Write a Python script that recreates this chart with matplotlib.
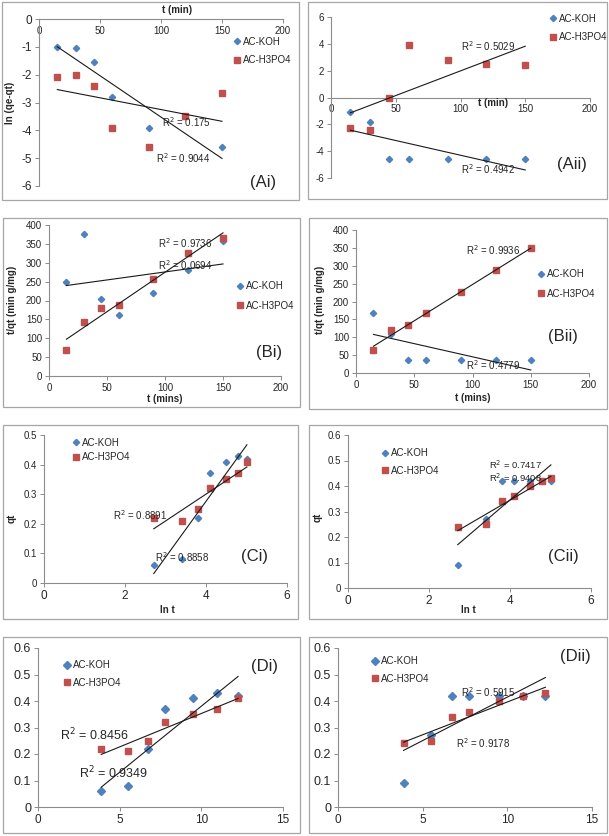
import numpy as np
import matplotlib
matplotlib.use("Agg")
import matplotlib.pyplot as plt
from matplotlib.patches import Rectangle

plt.rcParams['font.family'] = ['Liberation Sans', 'DejaVu Sans']
plt.rcParams['axes.unicode_minus'] = False

# ---------------- data ----------------
t_min = [15, 30, 45, 60, 90, 120, 150]
t_min_koh_ai = [15, 30, 45, 60, 90, 150]
ln_t = [2.71, 3.40, 3.81, 4.09, 4.50, 4.79, 5.01]
sqrt_t = [3.87, 5.48, 6.71, 7.75, 9.49, 10.95, 12.25]

ai_koh = [-1.0, -1.05, -1.55, -2.8, -3.9, -4.6]
ai_h3po4 = [-2.1, -2.02, -2.4, -3.9, -4.6, -3.5, -2.65]
aii_koh = [-1.1, -1.85, -4.6, -4.6, -4.6, -4.6, -4.6]
aii_h3po4 = [-2.3, -2.4, 0.0, 3.9, 2.8, 2.5, 2.4]
bi_koh = [250, 375, 205, 162, 220, 280, 357]
bi_h3po4 = [68, 143, 180, 188, 257, 325, 366]
bii_koh = [167, 110, 36, 36, 36, 36, 36]
bii_h3po4 = [63, 121, 133, 168, 226, 287, 349]
qt_i_koh = [0.06, 0.08, 0.22, 0.37, 0.41, 0.43, 0.42]
qt_i_h3po4 = [0.22, 0.21, 0.25, 0.32, 0.35, 0.37, 0.41]
qt_ii_koh = [0.09, 0.27, 0.42, 0.42, 0.42, 0.42, 0.42]
qt_ii_h3po4 = [0.24, 0.25, 0.34, 0.36, 0.40, 0.42, 0.43]

series_names = ["AC-KOH", "AC-H3PO4"]
r2_labels = {
    "Ai": ["R$^2$ = 0.175", "R$^2$ = 0.9044"],
    "Aii": ["R$^2$ = 0.5029", "R$^2$ = 0.4942"],
    "Bi": ["R$^2$ = 0.9736", "R$^2$ = 0.0694"],
    "Bii": ["R$^2$ = 0.9936", "R$^2$ = 0.4779"],
    "Ci": ["R$^2$ = 0.8891", "R$^2$ = 0.8858"],
    "Cii": ["R$^2$ = 0.7417", "R$^2$ = 0.9408"],
    "Di": ["R$^2$ = 0.8456", "R$^2$ = 0.9349"],
    "Dii": ["R$^2$ = 0.5915", "R$^2$ = 0.9178"],
}

# ---------------- layout helpers ----------------
W, H = 609, 836
fig = plt.figure(figsize=(W / 100, H / 100), dpi=100)

BLUE = "#4F81BD"
RED = "#C0504D"
SPINE = "#8C8C8C"
TXT = "#262626"


def rect(x0, y0, x1, y1):
    return [x0 / W, 1 - y1 / H, (x1 - x0) / W, (y1 - y0) / H]


def ftext(x, y, s, **kw):
    kw.setdefault("color", TXT)
    kw.setdefault("ha", "center")
    kw.setdefault("va", "center")
    fig.text(x / W, 1 - y / H, s, **kw)


def box(x0, y0, x1, y1):
    fig.patches.append(Rectangle((x0 / W, 1 - y1 / H), (x1 - x0) / W, (y1 - y0) / H,
                                 transform=fig.transFigure, fill=False,
                                 edgecolor="#A6A6A6", lw=0.9))


def make_ax(r, xlim, ylim, xticks, yticks, xfs=7, yfs=7, zero_axis=False, yfmt=None):
    ax = fig.add_axes(rect(*r))
    ax.set_xlim(*xlim)
    ax.set_ylim(*ylim)
    ax.set_xticks(xticks)
    ax.set_yticks(yticks)
    if yfmt:
        ax.set_yticklabels([yfmt(v) for v in yticks])
    for s in ["top", "right"]:
        ax.spines[s].set_visible(False)
    for s in ["left", "bottom"]:
        ax.spines[s].set_color(SPINE)
        ax.spines[s].set_linewidth(0.8)
    if zero_axis:
        ax.spines["bottom"].set_position(("data", 0))
    ax.tick_params(axis="both", direction="out", length=3, width=0.7, color=SPINE,
                   colors=TXT)
    ax.tick_params(axis="x", labelsize=xfs, pad=2)
    ax.tick_params(axis="y", labelsize=yfs, pad=2)
    ax.patch.set_alpha(0)
    return ax


def plot_series(ax, xk, yk, xh, yh, ms_d=3.2, ms_s=4.0):
    ax.plot(xk, yk, "D", color=BLUE, ms=ms_d, mec=BLUE, label=series_names[0],
            zorder=3, clip_on=False)
    ax.plot(xh, yh, "s", color=RED, ms=ms_s, mec=RED, label=series_names[1],
            zorder=3, clip_on=False)
    for x, y in [(xk, yk), (xh, yh)]:
        x = np.asarray(x, float)
        y = np.asarray(y, float)
        p = np.polyfit(x, y, 1)
        xs = np.array([x.min(), x.max()])
        ax.plot(xs, np.polyval(p, xs), color="#1a1a1a", lw=0.8, zorder=4)


def legend(ax, x, y, fs=7, spacing=0.9):
    ax.legend(loc="center left", bbox_to_anchor=(x / W, 1 - y / H),
              bbox_transform=fig.transFigure, frameon=False, fontsize=fs,
              handletextpad=0.1, handlelength=1.0, labelspacing=spacing,
              borderaxespad=0, borderpad=0, labelcolor=TXT)


# ---------------- panel boxes ----------------
box(2, 2, 299, 200)
box(308, 2, 607, 199)
box(3, 218, 300, 407)
box(309, 218, 607, 409)
box(3, 425, 298, 619)
box(309, 425, 607, 619)
box(3, 637, 300, 833)
box(309, 637, 607, 833)

# ---------------- Ai ----------------
ax = make_ax((39, 19, 283, 186), (0, 200), (-6, 0), [0, 50, 100, 150, 200],
             [0, -1, -2, -3, -4, -5, -6], xfs=7, yfs=8.5, zero_axis=True)
plot_series(ax, t_min_koh_ai, ai_koh, t_min, ai_h3po4)
legend(ax, 232, 51, fs=7, spacing=0.9)
ftext(177, 10, "t (min)", fontsize=7, fontweight="bold")
ftext(10, 103, "ln (qe-qt)", fontsize=7, fontweight="bold", rotation=90)
ftext(186, 122, r2_labels["Ai"][0], fontsize=7)
ftext(183, 158, r2_labels["Ai"][1], fontsize=7)
ftext(263, 182, "(Ai)", fontsize=12)

# ---------------- Aii ----------------
ax = make_ax((331, 17, 590, 178), (0, 200), (-6, 6), [0, 50, 100, 150, 200],
             [-6, -4, -2, 0, 2, 4, 6], xfs=7, yfs=7, zero_axis=True)
plot_series(ax, t_min, aii_koh, t_min, aii_h3po4)
legend(ax, 548, 28, fs=7, spacing=0.9)
ftext(493, 103, "t (min)", fontsize=7, fontweight="bold")
ftext(488, 46, r2_labels["Aii"][0], fontsize=7)
ftext(488, 169, r2_labels["Aii"][1], fontsize=7)
ftext(572, 164, "(Aii)", fontsize=12)

# ---------------- Bi ----------------
ax = make_ax((49, 225, 281, 376), (0, 200), (0, 400), [0, 50, 100, 150, 200],
             list(range(0, 401, 50)), xfs=7, yfs=7)
plot_series(ax, t_min, bi_koh, t_min, bi_h3po4)
legend(ax, 235, 296, fs=7, spacing=1.0)
ftext(165, 399, "t (mins)", fontsize=7, fontweight="bold")
ftext(12, 300, "t/qt (min g/mg)", fontsize=7, fontweight="bold", rotation=90)
ftext(185, 243, r2_labels["Bi"][0], fontsize=7)
ftext(185, 265, r2_labels["Bi"][1], fontsize=7)
ftext(269, 353, "(Bi)", fontsize=12)

# ---------------- Bii ----------------
ax = make_ax((356, 230, 589, 373), (0, 200), (0, 400), [0, 50, 100, 150, 200],
             list(range(0, 401, 50)), xfs=7, yfs=7)
plot_series(ax, t_min, bii_koh, t_min, bii_h3po4)
legend(ax, 536, 284, fs=7, spacing=1.0)
ftext(473, 398, "t (mins)", fontsize=7, fontweight="bold")
ftext(320, 300, "t/qt (min g/mg)", fontsize=7, fontweight="bold", rotation=90)
ftext(493, 250, r2_labels["Bii"][0], fontsize=7)
ftext(493, 365, r2_labels["Bii"][1], fontsize=7)
ftext(563, 336, "(Bii)", fontsize=12)

# ---------------- Ci ----------------
fmt1 = lambda v: "0" if v == 0 else f"{v:.1f}"
ax = make_ax((44, 435, 287, 583), (0, 6), (0, 0.5), [0, 2, 4, 6],
             [0, 0.1, 0.2, 0.3, 0.4, 0.5], xfs=8.5, yfs=7, yfmt=fmt1)
plot_series(ax, ln_t, qt_i_koh, ln_t, qt_i_h3po4)
legend(ax, 71, 450, fs=7, spacing=0.45)
ftext(167, 610, "ln t", fontsize=7, fontweight="bold")
ftext(12, 518, "qt", fontsize=7, fontweight="bold", rotation=90)
ftext(140, 515, r2_labels["Ci"][0], fontsize=7)
ftext(182, 557, r2_labels["Ci"][1], fontsize=7)
ftext(255, 556, "(Ci)", fontsize=12)

# ---------------- Cii ----------------
ax = make_ax((348, 435, 591, 588), (0, 6), (0, 0.6), [0, 2, 4, 6],
             [0, 0.1, 0.2, 0.3, 0.4, 0.5, 0.6], xfs=8.5, yfs=7, yfmt=fmt1)
plot_series(ax, ln_t, qt_ii_koh, ln_t, qt_ii_h3po4)
legend(ax, 380, 462, fs=7, spacing=0.75)
ftext(468, 610, "ln t", fontsize=7, fontweight="bold")
ftext(318, 517, "qt", fontsize=7, fontweight="bold", rotation=90)
ftext(515, 465, r2_labels["Cii"][0], fontsize=6.8)
ftext(515, 478, r2_labels["Cii"][1], fontsize=6.8)
ftext(563, 556, "(Cii)", fontsize=12)

# ---------------- Di ----------------
ax = make_ax((38, 648, 283, 807), (0, 15), (0, 0.6), [0, 5, 10, 15],
             [0, 0.1, 0.2, 0.3, 0.4, 0.5, 0.6], xfs=8.5, yfs=9, yfmt=fmt1)
plot_series(ax, sqrt_t, qt_i_koh, sqrt_t, qt_i_h3po4, ms_d=4.0, ms_s=5.0)
legend(ax, 62, 674, fs=7, spacing=0.75)
ftext(94, 735, r2_labels["Di"][0], fontsize=9)
ftext(113, 773, r2_labels["Di"][1], fontsize=9)
ftext(265, 667, "(Di)", fontsize=12)

# ---------------- Dii ----------------
ax = make_ax((338, 648, 592, 807), (0, 15), (0, 0.6), [0, 5, 10, 15],
             [0, 0.1, 0.2, 0.3, 0.4, 0.5, 0.6], xfs=8.5, yfs=9, yfmt=fmt1)
plot_series(ax, sqrt_t, qt_ii_koh, sqrt_t, qt_ii_h3po4, ms_d=4.0, ms_s=5.0)
legend(ax, 370, 670, fs=7, spacing=0.75)
ftext(488, 692, r2_labels["Dii"][0], fontsize=7)
ftext(483, 743, r2_labels["Dii"][1], fontsize=7)
ftext(575, 657, "(Dii)", fontsize=12)

fig.savefig("out.png", dpi=100)
